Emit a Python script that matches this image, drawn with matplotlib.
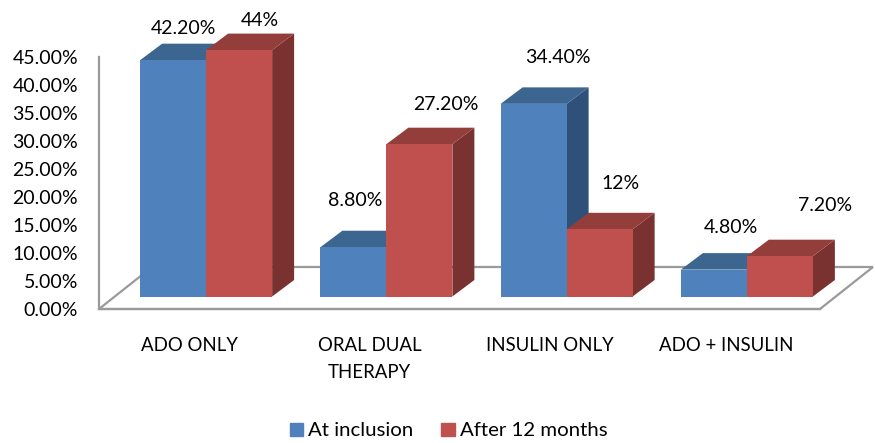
import numpy as np
import matplotlib
matplotlib.use('Agg')
import matplotlib.pyplot as plt
from matplotlib.patches import Polygon, Patch
from matplotlib.transforms import ScaledTranslation

categories = ['ADO ONLY', 'ORAL DUAL\nTHERAPY', 'INSULIN ONLY', 'ADO + INSULIN']
at_inclusion = [42.2, 8.8, 34.4, 4.8]
after_12_months = [44.0, 27.2, 12.0, 7.2]
inclusion_labels = ['42.20%', '8.80%', '34.40%', '4.80%']
after_labels = ['44%', '27.20%', '12%', '7.20%']
y_ticks = [0, 5, 10, 15, 20, 25, 30, 35, 40, 45]

W, H = 875, 443
L, R, T, B = 99, 820, 57, 309
plt.rcParams['font.family'] = ['Lato', 'DejaVu Sans']

fig = plt.figure(figsize=(W / 100, H / 100), dpi=100)
ax = fig.add_axes([L / W, 1 - B / H, (R - L) / W, (B - T) / H])
ax.set_xlim(-0.5, 3.5)
ax.set_ylim(0, 45)

# pixel sizes turned into data units
ux = (R - L) / 4
uy = (B - T) / 45
bar_w = 66 / ux
depth_x = 22 / ux
depth_y = 16.5 / uy
base = 12.5 / uy
x = np.arange(4)
blue_x = x - 49 / ux
red_x = blue_x + bar_w

# floor of the 3d box
floor_x = 53 / ux
floor_y = 42 / uy
grey = '#9A9A9A'
ax.add_patch(Polygon([(-0.5, 0), (-0.5 + floor_x, floor_y), (3.5 + floor_x, floor_y), (3.5, 0)],
                     closed=True, fill=False, edgecolor=grey, lw=1.6, clip_on=False, zorder=1))


def draw_bars(xs, vals, front, side, top, z):
    ax.bar(xs, vals, width=bar_w, bottom=base, align='edge', color=front, zorder=z + 0.2)
    for xi, v in zip(xs, vals):
        y1 = base + v
        ax.add_patch(Polygon([(xi + bar_w, base), (xi + bar_w + depth_x, base + depth_y),
                              (xi + bar_w + depth_x, y1 + depth_y), (xi + bar_w, y1)],
                             closed=True, color=side, lw=0, clip_on=False, zorder=z))
        ax.add_patch(Polygon([(xi, y1), (xi + depth_x, y1 + depth_y),
                              (xi + bar_w + depth_x, y1 + depth_y), (xi + bar_w, y1)],
                             closed=True, color=top, lw=0, clip_on=False, zorder=z))


draw_bars(blue_x, at_inclusion, '#4F81BD', '#2F5079', '#3C6590', 2)
draw_bars(red_x, after_12_months, '#C0504D', '#7A3230', '#933E3B', 3)
for b in ax.patches:
    b.set_clip_on(False)

# data labels sit wherever excel left them, so offsets are by hand (px)
inclusion_off = [(10, 32), (2, 47), (24, 46), (17, 42)]
after_off = [(21, 30), (26, 40), (21, 46), (45, 51)]
fs = 14
for i in range(4):
    ax.annotate(inclusion_labels[i], (blue_x[i] + bar_w / 2, base + at_inclusion[i]),
                xytext=inclusion_off[i], textcoords='offset pixels',
                ha='center', va='center', fontsize=fs, annotation_clip=False, zorder=6)
    ax.annotate(after_labels[i], (red_x[i] + bar_w / 2, base + after_12_months[i]),
                xytext=after_off[i], textcoords='offset pixels',
                ha='center', va='center', fontsize=fs, annotation_clip=False, zorder=6)

ax.set_yticks(y_ticks)
ax.set_yticklabels(['%.2f%%' % t for t in y_ticks], fontsize=fs)
ax.set_xticks(x)
ax.set_xticklabels(categories, fontsize=13.4, linespacing=1.7, va='top')
ax.tick_params(axis='y', length=0, pad=15)
ax.tick_params(axis='x', length=0, pad=20)

# last category label sits a bit left of its slot
last = ax.get_xticklabels()[3]
last.set_transform(last.get_transform() + ScaledTranslation(-4 / 100, 0, fig.dpi_scale_trans))

for s in ['top', 'right']:
    ax.spines[s].set_visible(False)
for s in ['left', 'bottom']:
    ax.spines[s].set_color(grey)
    ax.spines[s].set_linewidth(1.6)
ax.patch.set_alpha(0)

handles = [Patch(color='#4F81BD', label='At inclusion'), Patch(color='#C0504D', label='After 12 months')]
fig.legend(handles=handles, loc='center', bbox_to_anchor=(448.5 / W, 1 - 431 / H), ncol=2, frameon=False,
           fontsize=14.7, handlelength=0.65, handleheight=0.65, handletextpad=0.25, columnspacing=1.37,
           borderpad=0, borderaxespad=0)

fig.savefig('out.png', dpi=100)
